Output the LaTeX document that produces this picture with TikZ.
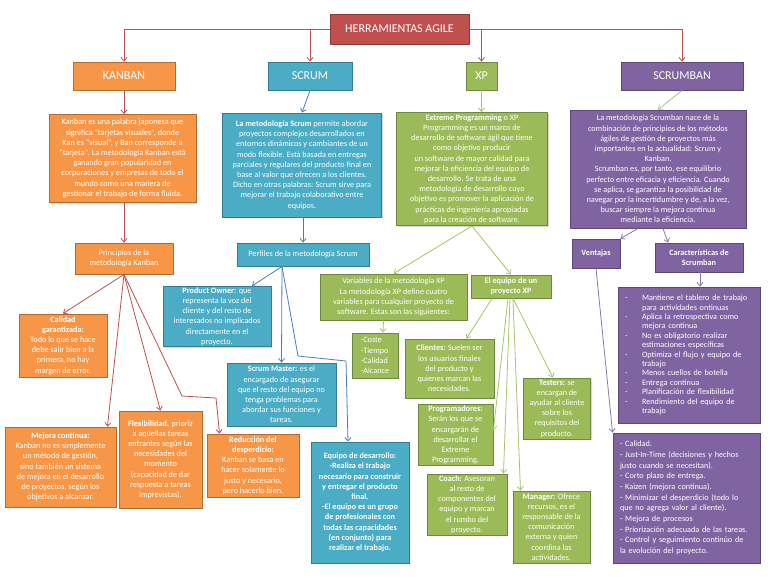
\documentclass[tikz,border=0pt]{standalone}
\usepackage{fontspec}
\setmainfont{Carlito}
\usetikzlibrary{arrows.meta,shadows}
\definecolor{cred}{HTML}{C0504D}
\definecolor{corange}{HTML}{F79646}
\definecolor{cblue}{HTML}{4BACC6}
\definecolor{cgreen}{HTML}{9BBB59}
\definecolor{cpurple}{HTML}{8064A2}
\definecolor{lred}{HTML}{C0504D}
\definecolor{lblue}{HTML}{4A7EBB}
\definecolor{lgreen}{HTML}{A6C46E}
\definecolor{lpurple}{HTML}{8E79AE}
\newcommand\bodyfont{\fontsize{8.2}{10.2}\selectfont}
\newcommand\headfont{\fontsize{12}{14}\selectfont}
\begin{document}
\begin{tikzpicture}[x=1pt,y=-1pt,
  box/.style={draw=#1!72!black, fill=#1, line width=0.9pt, text=white, align=center,
    inner sep=1pt, font=\bodyfont,
    drop shadow={shadow xshift=1.2pt, shadow yshift=-1.2pt, opacity=0.3}},
  arr/.style={draw=#1, line width=0.8pt, -{Straight Barb[length=3.5pt,width=6pt]}},
  lst/.style={align=left, inner xsep=7pt}
]
\path[fill=white] (0,0) rectangle (768,576);

% ---- top level
\node[box=cred, minimum width=139pt, minimum height=30pt, font=\headfont] (title) at (399.5,29) {HERRAMIENTAS AGILE};
\node[box=corange, minimum width=102pt, minimum height=28pt, font=\headfont] (kanban) at (124,76) {KANBAN};
\node[box=cblue, minimum width=84pt, minimum height=28pt, font=\headfont] (scrum) at (310,76) {SCRUM};
\node[box=cgreen, minimum width=31pt, minimum height=28pt, font=\headfont] (xp) at (481.5,76) {XP};
\node[box=cpurple, minimum width=122pt, minimum height=28pt, font=\headfont] (scrumban) at (682,76) {SCRUMBAN};

% ---- descriptions
\node[box=corange, minimum width=147pt, minimum height=88pt] (kdesc) at (122.5,158.5) {Kanban es una palabra japonesa que\\ significa “tarjetas visuales”, donde\\ Kan es “visual”, y Ban corresponde a\\ “tarjeta”. La metodología Kanban está\\ ganando gran popularidad en\\ corporaciones y empresas de todo el\\ mundo como una manera de\\ gestionar el trabajo de forma fluida.};
\node[box=cblue, minimum width=159pt, minimum height=104pt] (sdesc) at (302,165) {\textbf{La metodología Scrum} permite abordar\\ proyectos complejos desarrollados en\\ entornos dinámicos y cambiantes de un\\ modo flexible. Está basada en entregas\\ parciales y regulares del producto final en\\ base al valor que ofrecen a los clientes.\\ Dicho en otras palabras: Scrum sirve para\\ mejorar el trabajo colaborativo entre\\ equipos.};
\node[box=cgreen, minimum width=151pt, minimum height=113pt] (xdesc) at (472,169) {\textbf{Extreme Programming} o XP\\ Programming es un marco de\\ desarrollo de software ágil que tiene\\ como objetivo producir\\ un software de mayor calidad para\\ mejorar la eficiencia del equipo de\\ desarrollo. Se trata de una\\ metodología de desarrollo cuyo\\ objetivo es promover la aplicación de\\ prácticas de ingeniería apropiadas\\ para la creación de software.};
\node[box=cpurple, minimum width=176pt, minimum height=118pt] (sbdesc) at (658,169) {La metodología Scrumban nace de la\\ combinación de principios de los métodos\\ ágiles de gestión de proyectos más\\ importantes en la actualidad: Scrum y\\ Kanban.\\ Scrumban es, por tanto, ese equilibrio\\ perfecto entre eficacia y eficiencia. Cuando\\ se aplica, se garantiza la posibilidad de\\ navegar por la incertidumbre y de, a la vez,\\ buscar siempre la mejora continua\\ mediante la eficiencia.};

% ---- Kanban
\node[box=corange, minimum width=98pt, minimum height=31pt] (prin) at (124,258.5) {Principios de la\\ metodología Kanban};
\node[box=corange, minimum width=88pt, minimum height=63pt] (calidad) at (63,345.5) {\textbf{Calidad}\\ \textbf{garantizada:}\\ Todo lo que se hace\\ debe salir bien a la\\ primera, no hay\\ margen de error.};
\node[box=corange, minimum width=111pt, minimum height=80pt] (mejora) at (60.5,467) {\textbf{Mejora continua:}\\ Kanban no es simplemente\\ un método de gestión,\\ sino también un sistema\\ de mejora en el desarrollo\\ de proyectos, según los\\ objetivos a alcanzar.};
\node[box=corange, minimum width=83pt, minimum height=97pt] (flex) at (160.5,459.5) {\textbf{Flexibilidad.} prioriz\\ a aquellas tareas\\ entrantes según las\\ necesidades del\\ momento\\ (capacidad de dar\\ respuesta a tareas\\ imprevistas).};
\node[box=corange, minimum width=92pt, minimum height=63pt] (reduc) at (253,465.5) {\textbf{Reducción del}\\ \textbf{desperdicio:}\\ Kanban se basa en\\ hacer solamente lo\\ justo y necesario,\\ pero hacerlo bien.};

% ---- Scrum
\node[box=cblue, minimum width=132pt, minimum height=23pt] (perf) at (303,254.5) {Perfiles de la metodología Scrum};
\node[box=cblue, minimum width=108pt, minimum height=59pt] (po) at (217,316.5) {\textbf{Product Owner:} que\\ representa la voz del\\ cliente y del resto de\\ interesados no implicados\\ directamente en el\\ proyecto.};
\node[box=cblue, minimum width=109pt, minimum height=63pt] (sm) at (281.5,394.5) {\textbf{Scrum Master:} es el\\ encargado de asegurar\\ que el resto del equipo no\\ tenga problemas para\\ abordar sus funciones y\\ tareas.};
\node[box=cblue, minimum width=98pt, minimum height=121pt, font=\bodyfont\bfseries] (eqdev) at (360,502.5) {Equipo de desarrollo:\\ -Realiza el trabajo\\ necesario para construir\\ y entregar el producto\\ final.\\ -El equipo es un grupo\\ de profesionales con\\ todas las capacidades\\ (en conjunto) para\\ realizar el trabajo.};

% ---- XP
\node[box=cgreen, minimum width=147pt, minimum height=46pt] (vars) at (393.5,297) {Variables de la metodología XP\\ La metodología XP define cuatro\\ variables para cualquier proyecto de\\ software. Estas son las siguientes:};
\node[box=cgreen, minimum width=46pt, minimum height=45pt, align=left] (coste) at (375,355.5) {-Coste\\ -Tiempo\\ -Calidad\\ -Alcance};
\node[box=cgreen, minimum width=80pt, minimum height=23pt, font=\bodyfont\bfseries] (eqxp) at (511,286.5) {El equipo de un\\ proyecto XP};
\node[box=cgreen, minimum width=89pt, minimum height=59pt] (cli) at (449.5,368.5) {\textbf{Clientes:} Suelen ser\\ los usuarios finales\\ del producto y\\ quienes marcan las\\ necesidades.};
\node[box=cgreen, minimum width=67pt, minimum height=61pt] (test) at (557,408.5) {\textbf{Testers:} se\\ encargan de\\ ayudar al cliente\\ sobre los\\ requisitos del\\ producto.};
\node[box=cgreen, minimum width=75pt, minimum height=60pt] (prog) at (455.5,435) {\textbf{Programadores:}\\ Serán los que se\\ encargarán de\\ desarrollar el\\ Extreme\\ Programming.};
\node[box=cgreen, minimum width=80pt, minimum height=61pt] (coach) at (467,504.5) {\textbf{Coach:} Asesoran\\ al resto de\\ componentes del\\ equipo y marcan\\ el rumbo del\\ proyecto.};
\node[box=cgreen, minimum width=77pt, minimum height=72pt] (mgr) at (551.5,527) {\textbf{Manager:} Ofrece\\ recursos, es el\\ responsable de la\\ comunicación\\ externa y quien\\ coordina las\\ actividades.};

% ---- Scrumban
\node[box=cpurple, minimum width=48pt, minimum height=29pt, font=\bodyfont\bfseries] (vent) at (596,253.5) {Ventajas};
\node[box=cpurple, minimum width=88pt, minimum height=29pt, font=\bodyfont\bfseries] (car) at (699,257.5) {Características de\\ Scrumban};
\node[box=cpurple, lst, minimum width=142pt, text width=128pt, minimum height=136pt, font=\fontsize{8.2}{9.4}\selectfont] (clist) at (689,355)
 {\makebox[17pt][l]{-}Mantiene el tablero de trabajo\\ \hspace*{17pt}para actividades ontinuas\\
  \makebox[17pt][l]{-}Aplica la retrospectiva como\\ \hspace*{17pt}mejora continua\\
  \makebox[17pt][l]{-}No es obligatorio realizar\\ \hspace*{17pt}estimaciones específicas\\
  \makebox[17pt][l]{-}Optimiza el flujo y equipo de\\ \hspace*{17pt}trabajo\\
  \makebox[17pt][l]{-}Menos cuellos de botella\\
  \makebox[17pt][l]{-}Entrega continua\\
  \makebox[17pt][l]{-}Planificación de flexibilidad\\
  \makebox[17pt][l]{-}Rendimiento del equipo de\\ \hspace*{17pt}trabajo};
\node[box=cpurple, lst, minimum width=147pt, text width=133pt, minimum height=130pt, font=\fontsize{8.2}{10.7}\selectfont] (vlist) at (686.5,498)
 {- Calidad.\\ - Just-In-Time (decisiones y hechos\\ justo cuando se necesitan).\\ - Corto plazo de entrega.\\ - Kaizen (mejora continua).\\ - Minimizar el desperdicio (todo lo\\ que no agrega valor al cliente).\\ - Mejora de procesos\\ - Priorización adecuada de las tareas.\\ - Control y seguimiento continúo de\\ la evolución del proyecto.};

% ---- connectors
\draw[arr=lred] (title.west) -| (kanban.north);
\draw[arr=lred] (title.west) -| (scrum.north);
\draw[arr=lred] (title.east) -| (xp.north);
\draw[arr=lred] (title.east) -| (scrumban.north);

\draw[arr=lred] (kanban.south) -- (kanban.south |- kdesc.north);
\draw[arr=lblue] (scrum.south) -- (sdesc.north);
\draw[arr=lgreen] (xp.south) -- (xp.south |- xdesc.north);
\draw[arr=lgreen] (scrumban.south) -- (sbdesc.north);

\draw[arr=lred] (prin.north |- kdesc.south) -- (prin.north);
\draw[arr=lred] (prin.south) -- (calidad.north);
\draw[arr=lred] (prin.south) -- ([xshift=-9pt]mejora.north east);
\draw[arr=lred] (prin.south) -- (flex.north);
\draw[arr=lred] (prin.south) -- (182,396) -- (216,398) -- ([xshift=13pt]reduc.north west);

\draw[arr=lblue] (perf.north |- sdesc.south) -- (perf.north);
\draw[arr=lblue] ([xshift=-21pt]perf.south) -- ([xshift=35pt]po.north);
\draw[arr=lblue] ([xshift=-21pt]perf.south) -- (sm.north);
\draw[arr=lblue] ([xshift=-21pt]perf.south) -- (298,356) -- (346,361) -- ([xshift=-12pt]eqdev.north);

\draw[arr=lgreen] (xdesc.south) -- (vars.north);
\draw[arr=lgreen] (xdesc.south) -- (eqxp.north);
\draw[arr=lgreen] ([xshift=-10pt]vars.south) -- ([xshift=8pt]coste.north);
\draw[arr=lgreen] ([xshift=-19pt]eqxp.south) -- ([xshift=17pt]cli.north);
\draw[arr=lgreen] ([xshift=2pt]eqxp.south) -- ([xshift=-4pt]test.north);
\draw[arr=lgreen] ([xshift=-3pt]eqxp.south) -- ([yshift=5pt]prog.east);
\draw[arr=lgreen] ([xshift=-1pt]eqxp.south) -- ([xshift=-4pt]coach.north east);
\draw[arr=lgreen] ([xshift=2pt]eqxp.south) -- ([xshift=-31pt]mgr.north);

\draw[arr=lpurple] ([xshift=-20pt]sbdesc.south) -- (vent.north east);
\draw[arr=lpurple] ([xshift=5pt]sbdesc.south) -- ([xshift=-31pt]car.north);
\draw[arr=lpurple] ([xshift=1pt]car.south) -- ([xshift=1pt]car.south |- clist.north);
\draw[arr=lpurple] (vent.south) -- (vlist.north west);
\end{tikzpicture}
\end{document}
